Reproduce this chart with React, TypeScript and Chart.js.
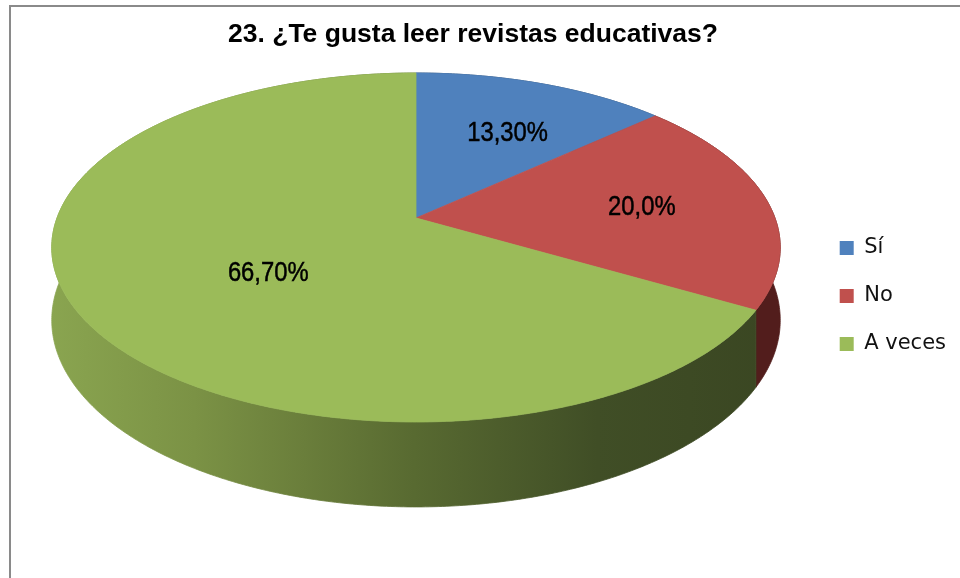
import React, { useEffect, useRef } from "react";
import { Chart, registerables } from "chart.js";

Chart.register(...registerables);

// ---- data ----
const categories = ["Sí", "No", "A veces"];
const values = [13.3, 20.0, 66.7];
const valueLabels = ["13,30%", "20,0%", "66,70%"];
const titleText = "23. ¿Te gusta leer revistas educativas?";

// ---- styles ----
const topColors = ["#4F81BD", "#C0504D", "#9BBB59"];
const wallColors = ["#2b4566", "#521d1c", "gradient"];
const labelRadius = [0.62, 0.64, 0.494];
const labelAngleShift = [2.8, 0, -7.7]; // degrees

// projection of the tilted disc
const G = { cx: 416, cy: 218, a: 359, k: 169.5, p: 0.169, d: 70.6 };

function proj(th: number, r: number, drop: number): [number, number] {
  const u = r * Math.cos(th);
  const v = r * Math.sin(th);
  const den = 1 - G.p * v;
  return [G.cx + (G.a * u) / den, G.cy + (G.k * v) / den + drop / den];
}

const pie3d = {
  id: "pie3d",
  beforeDatasetsDraw(chart: any) {
    const ctx: CanvasRenderingContext2D = chart.ctx;
    const meta = chart.getDatasetMeta(0);
    const arcs = meta.data as any[];

    const grad = ctx.createLinearGradient(48, 0, 780, 0);
    grad.addColorStop(0, "#8aa550");
    grad.addColorStop(0.2, "#7b9245");
    grad.addColorStop(0.35, "#6a7e3b");
    grad.addColorStop(0.5, "#586a31");
    grad.addColorStop(0.75, "#404e26");
    grad.addColorStop(1, "#3a4622");

    ctx.save();
    // walls
    arcs.forEach((arc, i) => {
      const s = arc.startAngle;
      const e = arc.endAngle;
      const n = Math.max(2, Math.ceil((e - s) / 0.01));
      ctx.beginPath();
      for (let j = 0; j <= n; j++) {
        const th = s + ((e - s) * j) / n;
        const [x, y] = proj(th, 1, 0);
        if (j === 0) ctx.moveTo(x, y);
        else ctx.lineTo(x, y);
      }
      for (let j = n; j >= 0; j--) {
        const th = s + ((e - s) * j) / n;
        const [x, y] = proj(th, 1, G.d);
        ctx.lineTo(x, y);
      }
      ctx.closePath();
      const f = wallColors[i] === "gradient" ? grad : wallColors[i];
      ctx.fillStyle = f;
      ctx.strokeStyle = f;
      ctx.lineWidth = 0.8;
      ctx.fill();
      ctx.stroke();
    });
    // tops
    arcs.forEach((arc, i) => {
      const s = arc.startAngle;
      const e = arc.endAngle;
      const n = Math.max(2, Math.ceil((e - s) / 0.01));
      ctx.beginPath();
      ctx.moveTo(G.cx, G.cy);
      for (let j = 0; j <= n; j++) {
        const th = s + ((e - s) * j) / n;
        const [x, y] = proj(th, 1, 0);
        ctx.lineTo(x, y);
      }
      ctx.closePath();
      ctx.fillStyle = topColors[i];
      ctx.strokeStyle = topColors[i];
      ctx.lineWidth = 0.8;
      ctx.fill();
      ctx.stroke();
    });
    // labels
    arcs.forEach((arc, i) => {
      const mid = (arc.startAngle + arc.endAngle) / 2 + (labelAngleShift[i] * Math.PI) / 180;
      const [x, y] = proj(mid, labelRadius[i], 0);
      ctx.save();
      ctx.translate(x, y);
      ctx.scale(0.85, 1);
      ctx.font = '28px "Liberation Sans", Arial, sans-serif';
      ctx.fillStyle = "#000000";
      ctx.strokeStyle = "#000000";
      ctx.lineWidth = 0.5;
      ctx.textAlign = "center";
      ctx.textBaseline = "middle";
      ctx.fillText(valueLabels[i], 0, 1);
      ctx.strokeText(valueLabels[i], 0, 1);
      ctx.restore();
    });
    ctx.restore();
    return false;
  },
};

export default function App() {
  const ref = useRef<HTMLCanvasElement | null>(null);
  useEffect(() => {
    if (!ref.current) return;
    const chart = new Chart(ref.current, {
      type: "pie",
      data: {
        labels: categories,
        datasets: [
          {
            data: values,
            backgroundColor: topColors,
            borderColor: topColors,
            borderWidth: 0,
          },
        ],
      },
      options: {
        responsive: false,
        animation: false,
        events: [],
        layout: { padding: { top: 14, right: 4, left: -10, bottom: 0 } },
        plugins: {
          title: {
            display: true,
            text: titleText,
            color: "#000000",
            font: { family: '"Liberation Sans", Arial, sans-serif', size: 26.5, weight: "bold" },
            padding: { top: 5, bottom: 0 },
          },
          legend: {
            display: true,
            position: "right",
            align: "center",
            labels: {
              boxWidth: 14,
              boxHeight: 14,
              padding: 27,
              color: "#111111",
              font: { family: '"DejaVu Sans", Verdana, sans-serif', size: 21 },
            },
          },
          tooltip: { enabled: false },
        },
      },
      plugins: [pie3d],
    } as any);
    return () => chart.destroy();
  }, []);

  return (
    <div style={{ position: "fixed", left: 0, top: 0, width: 960, height: 578, background: "#ffffff", overflow: "hidden" }}>
      <div
        style={{
          position: "absolute",
          left: 9,
          top: 5,
          width: 2000,
          height: 2000,
          borderLeft: "2px solid #8a8a8a",
          borderTop: "2px solid #8a8a8a",
        }}
      />
      <canvas ref={ref} width={960} height={578} style={{ position: "absolute", left: 0, top: 0, width: 960, height: 578 }} />
    </div>
  );
}
